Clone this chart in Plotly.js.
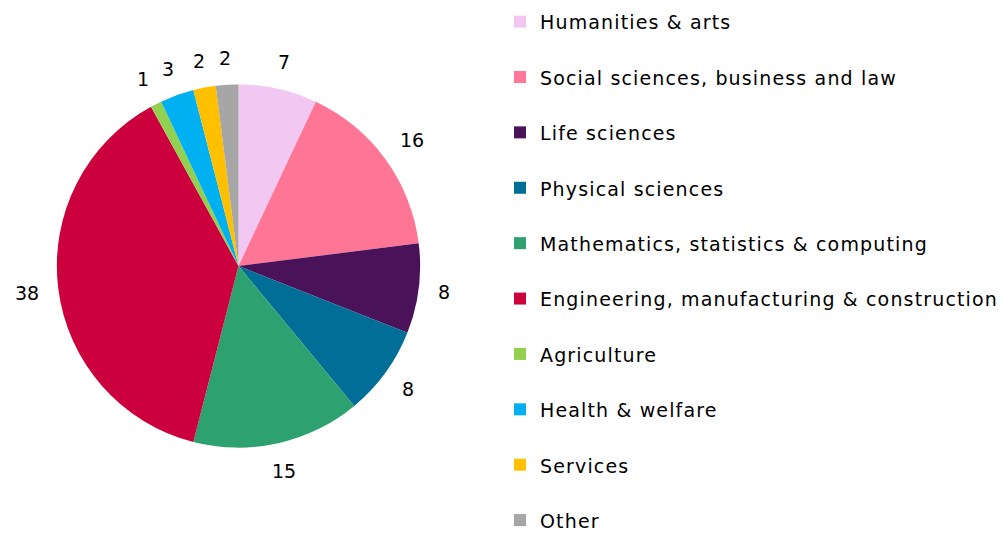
<!DOCTYPE html>
<html>
<head>
<meta charset="utf-8">
<script src="https://cdn.plot.ly/plotly-3.0.1.min.js"></script>
<style>
html, body { margin: 0; padding: 0; overflow: hidden; background: #fff; }
#chart { width: 1003px; height: 600px; }
</style>
</head>
<body>
<div id="chart"></div>
<script>
var categories = [
  "Humanities & arts",
  "Social sciences, business and law",
  "Life sciences",
  "Physical sciences",
  "Mathematics, statistics & computing",
  "Engineering, manufacturing & construction",
  "Agriculture",
  "Health & welfare",
  "Services",
  "Other"
];
var shares = [7, 16, 8, 8, 15, 38, 1, 3, 2, 2];
var colors = ["#F2C8F2", "#FF7596", "#4A1259", "#006E96", "#2DA270",
              "#CC003C", "#92D050", "#00B0F0", "#FFC000", "#A6A6A6"];

var W = 1003, H = 600;
var dom = { x: [0.0568, 0.4197], y: [0.2533, 0.86] };

var legendLabels = categories.map(function (c, i) {
  var s = '<span style="font-size:19px;letter-spacing:1.15px">' + c + '</span>';
  return i < categories.length - 1 ? s + '<br> ' : s;
});

// value labels placed outside each slice, positions derived from the shares
var cx = (dom.x[0] + dom.x[1]) / 2 * W;
var cy = H - (dom.y[0] + dom.y[1]) / 2 * H;
var r = Math.min((dom.x[1] - dom.x[0]) * W, (dom.y[1] - dom.y[0]) * H) / 2;
var total = shares.reduce(function (a, b) { return a + b; }, 0);
var cum = 0;
var annotations = shares.map(function (v) {
  var th = (cum + v / 2) / total * 2 * Math.PI;
  cum += v;
  var s = Math.sin(th), c = Math.cos(th);
  var txt = String(v);
  var halfW = txt.length * 6, halfH = 7;
  var d = r + 19 + Math.abs(s) * halfW + Math.abs(c) * halfH;
  return {
    xref: "paper", yref: "paper",
    x: (cx + d * s) / W,
    y: 1 - (cy - d * c) / H,
    xanchor: "center", yanchor: "middle",
    text: txt, showarrow: false,
    font: { family: "DejaVu Sans, Verdana, sans-serif", size: 19, color: "#000000" }
  };
});

var trace = {
  type: "pie",
  labels: legendLabels,
  values: shares,
  marker: { colors: colors, line: { width: 0 } },
  sort: false,
  direction: "clockwise",
  rotation: 0,
  textinfo: "none",
  hoverinfo: "label+value",
  domain: dom
};

var layout = {
  width: W,
  height: H,
  margin: { l: 0, r: 0, t: 0, b: 0 },
  paper_bgcolor: "#ffffff",
  font: { family: "DejaVu Sans, Verdana, sans-serif", color: "#000000" },
  showlegend: true,
  annotations: annotations,
  legend: {
    x: 501 / W,
    xanchor: "left",
    y: 1 - 2 / H,
    yanchor: "top",
    valign: "top",
    font: { size: 20.15, color: "#000000" },
    bgcolor: "rgba(0,0,0,0)",
    borderwidth: 0,
    itemclick: false,
    itemdoubleclick: false
  }
};

Plotly.newPlot("chart", [trace], layout, { displayModeBar: false, staticPlot: true });
</script>
</body>
</html>
